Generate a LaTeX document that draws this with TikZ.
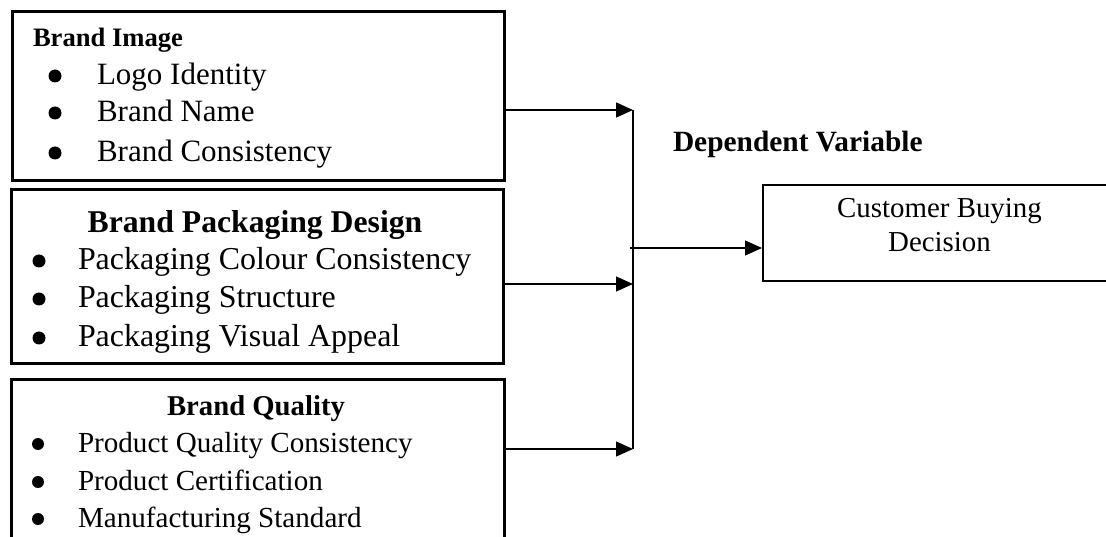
\documentclass[tikz,border=0pt]{standalone}
\usepackage{fontspec}
\setmainfont{Liberation Serif}
\usetikzlibrary{arrows.meta}
\begin{document}
\begin{tikzpicture}[x=1pt,y=-1pt,
  txt/.style={inner sep=0pt,outer sep=0pt},
  ivbox/.style={draw,line width=3pt,inner sep=0pt},
  dvbox/.style={draw,line width=1.8pt,inner sep=0pt},
  conn/.style={line width=1.3pt},
  arr/.style={line width=1.3pt,-{Triangle[length=17pt,width=15pt]}},
  bul/.style={circle,fill,inner sep=0pt,minimum size=13pt},
  item/.style={txt,anchor=base west}]
\useasboundingbox (0,0) rectangle (1106,537);
% boxes
\node[ivbox,minimum width=492pt,minimum height=169pt,anchor=north west] (b1) at (11,10) {};
\node[ivbox,minimum width=492pt,minimum height=174pt,anchor=north west] (b2) at (10,188) {};
\node[ivbox,minimum width=493pt,minimum height=182pt,anchor=north west] (b3) at (10,378) {};
\node[dvbox,minimum width=350pt,minimum height=96pt,anchor=north west] (dv) at (762,184) {};
% box 1
\node[item,font=\fontsize{26.6}{30}\selectfont\bfseries] (h1) at (33,47) {Brand Image};
\node[bul] (p11) at (55,76) {};
\node[bul] (p12) at (55,113) {};
\node[bul] (p13) at (55,153) {};
\node[item,font=\fontsize{31}{34}\selectfont] (t11) at (97,85) {Logo Identity};
\node[item,font=\fontsize{31}{34}\selectfont] (t12) at (97,122) {Brand Name};
\node[item,font=\fontsize{31}{34}\selectfont] (t13) at (97,162) {Brand Consistency};
% box 2
\node[txt,anchor=base,font=\fontsize{31.7}{34}\selectfont\bfseries] (h2) at (255,233) {Brand Packaging Design};
\node[bul] (p21) at (39,261) {};
\node[bul] (p22) at (39,299) {};
\node[bul] (p23) at (39,338) {};
\node[item,font=\fontsize{31.9}{34}\selectfont] (t21) at (78,270) {Packaging Colour Consistency};
\node[item,font=\fontsize{31.9}{34}\selectfont] (t22) at (78,308) {Packaging Structure};
\node[item,font=\fontsize{31.9}{34}\selectfont] (t23) at (78,347) {Packaging Visual Appeal};
% box 3
\node[txt,anchor=base,font=\fontsize{28.7}{32}\selectfont\bfseries] (h3) at (256,415) {Brand Quality};
\node[bul,minimum size=12pt] (p31) at (38,444) {};
\node[bul,minimum size=12pt] (p32) at (38,482) {};
\node[bul,minimum size=12pt] (p33) at (38,519) {};
\node[item,font=\fontsize{29.1}{32}\selectfont] (t31) at (78,452) {Product Quality Consistency};
\node[item,font=\fontsize{29.1}{32}\selectfont] (t32) at (78,490) {Product Certification};
\node[item,font=\fontsize{29.1}{32}\selectfont] (t33) at (78,527) {Manufacturing Standard};
% dependent
\node[item,font=\fontsize{29.4}{32}\selectfont\bfseries] (hd) at (673,152) {Dependent Variable};
\node[txt,anchor=base,font=\fontsize{28.9}{32}\selectfont] (d1) at (939.5,218) {Customer Buying};
\node[txt,anchor=base,font=\fontsize{28.9}{32}\selectfont] (d2) at (939.5,252) {Decision};
% connectors
\coordinate (j1) at (633,110);
\coordinate (j2) at (633,284);
\coordinate (j3) at (633,449);
\coordinate (jm) at (630,248);
\draw[arr] (b1.east |- j1) -- (j1);
\draw[arr] (b2.east |- j2) -- (j2);
\draw[arr] (b3.east |- j3) -- (j3);
\draw[conn] (j1) -- (j3);
\draw[arr] (jm) -- (dv.west |- jm);
\end{tikzpicture}
\end{document}
